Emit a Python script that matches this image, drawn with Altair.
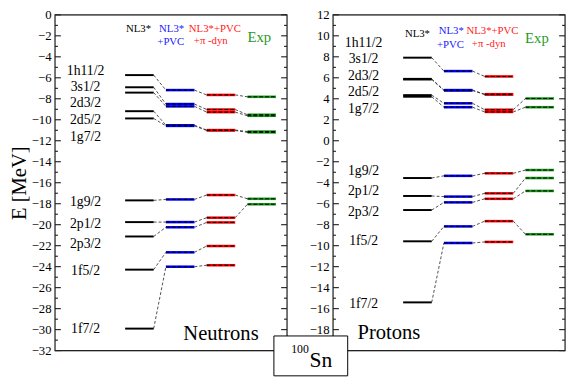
import altair as alt
import pandas as pd

# ---------------- data (energies in MeV) ----------------
METHODS = ["NL3*", "NL3*+PVC", "NL3*+PVC+pi-dyn", "Exp"]

N_STATES = ["1h11/2", "3s1/2", "2d3/2", "2d5/2", "1g7/2",
            "1g9/2", "2p1/2", "2p3/2", "1f5/2", "1f7/2"]
N_NL3 = [-5.74, -6.90, -7.41, -9.18, -9.87, -17.68, -19.75, -21.12, -24.28, -29.90]
N_PVC = [-7.17, -8.50, -8.72, -10.52, -10.58, -17.59, -19.75, -20.24, -22.63, -24.00]
N_PI = [-7.63, -9.02, -9.27, -10.98, -11.02, -17.17, -19.33, -19.78, -22.03, -23.86]
N_EXP = [-7.81, -9.52, -9.62, -11.12, -11.20, -17.53, -18.05, None, None, None]
N_LABEL_E = [-5.38, -6.84, -8.45, -10.03, -11.67, -17.85, -19.90, -21.85, -24.40, -29.90]

P_STATES = N_STATES
P_NL3 = [7.92, 5.90, 5.84, 4.35, 4.20, -3.55, -5.26, -6.60, -9.58, -15.40]
P_PVC = [6.64, 4.83, 4.79, 3.57, 3.20, -3.34, -5.32, -5.87, -8.16, -9.74]
P_PI = [6.13, 4.44, 4.40, 2.96, 2.75, -3.10, -5.01, -5.53, -7.66, -9.64]
P_EXP = [None, None, None, 4.03, 3.20, -2.79, -3.55, -4.78, -8.91, None]
P_LABEL_E = [9.29, 7.77, 6.18, 4.67, 3.05, -2.89, -4.78, -6.84, -9.58, -15.60]

HEAD_TEXT = ["NL3*", "NL3*", "+PVC", "NL3*+PVC", "+\u03c0 -dyn", "Exp"]
HEAD_COLOR = ["black", "#2020ff", "#2020ff", "#ff2020", "#ff2020", "#1f9a1f"]
HEAD_SIZE = [11, 11, 11, 11, 11, 15]
N_HEAD_X = [-0.02, 0.79, 0.77, 1.85, 1.75, 2.94]
N_HEAD_E = [-1.37, -1.37, -2.58, -1.34, -2.50, -2.10]
P_HEAD_X = [0.00, 0.83, 0.81, 1.84, 1.75, 2.93]
P_HEAD_E = [10.20, 10.45, 9.08, 10.45, 9.20, 9.75]

N_YTICKS = list(range(-32, 1, 2))
P_YTICKS = list(range(-18, 13, 2))

# ---------------- layout / style ----------------
COLORS = ["black", "#0000ff", "#ff0000", "#1a9a1a"]
HALF = 0.35
XDOM = [-2.07, 3.62]
W, H = 237, 343
LABEL_X = -1.32
SERIF = "Liberation Serif"


def build_panel(series, label_e, head_x, head_e, ydom, yticks, ytitle,
                name, name_x, name_e, box=False):
    lev = []
    for i, st in enumerate(N_STATES):
        for m, arr in enumerate(series):
            if arr[i] is None:
                continue
            lev.append(dict(state=st, m=m, x0=m - HALF, x1=m + HALF,
                            e=arr[i], color=COLORS[m]))
    lev = pd.DataFrame(lev)
    con = []
    for i in range(len(N_STATES)):
        for m in range(3):
            a, b = series[m][i], series[m + 1][i]
            if a is None or b is None:
                continue
            con.append(dict(x0=m + HALF, x1=m + 1 - HALF, e0=a, e1=b))
    con = pd.DataFrame(con)

    xs = alt.Scale(domain=XDOM, nice=False, zero=False)
    ys = alt.Scale(domain=ydom, nice=False, zero=False)

    lo, hi = ydom
    ticks = pd.DataFrame({"t": list(range(lo, hi + 1))})
    ticks["major"] = ticks["t"] % 2 == 0

    ax = alt.Axis(values=yticks, ticks=False, domain=False, grid=False,
                  labelFont=SERIF, labelFontSize=13, labelColor="black",
                  labelPadding=4, title=ytitle if ytitle else "",
                  titleFont=SERIF,
                  titleFontSize=21, titleFontWeight="normal",
                  titleColor="black", titlePadding=2)

    def Y(f):
        return alt.Y(f, scale=ys, axis=ax)

    def X(f):
        return alt.X(f, scale=xs, axis=None)

    tick_base = alt.Chart(ticks)
    t_left_major = tick_base.transform_filter("datum.major").mark_rule(
        color="black", strokeWidth=1).encode(
        y=Y("t:Q"), x=alt.value(0), x2=alt.value(6))
    t_left_minor = tick_base.transform_filter("!datum.major").mark_rule(
        color="black", strokeWidth=1).encode(
        y=Y("t:Q"), x=alt.value(0), x2=alt.value(3))
    t_right_major = tick_base.transform_filter("datum.major").mark_rule(
        color="black", strokeWidth=1).encode(
        y=Y("t:Q"), x=alt.value(W - 6), x2=alt.value(W))
    t_right_minor = tick_base.transform_filter("!datum.major").mark_rule(
        color="black", strokeWidth=1).encode(
        y=Y("t:Q"), x=alt.value(W - 3), x2=alt.value(W))

    frame = alt.Chart(pd.DataFrame({"k": [0]})).mark_rect(
        fillOpacity=0, stroke="#222", strokeWidth=1.2).encode(
        x=alt.value(0), x2=alt.value(W), y=alt.value(0), y2=alt.value(H))

    conn = alt.Chart(con).mark_rule(color="#222", strokeWidth=0.8,
                                    strokeDash=[3, 2]).encode(
        x=X("x0:Q"), x2="x1:Q", y=Y("e0:Q"), y2="e1:Q")

    black_bars = alt.Chart(lev).transform_filter("datum.m == 0").mark_rule(
        strokeWidth=2, color="black").encode(
        x=X("x0:Q"), x2="x1:Q", y=Y("e:Q"))
    col_bars = alt.Chart(lev).transform_filter("datum.m > 0").mark_rule(
        strokeWidth=2.6).encode(
        x=X("x0:Q"), x2="x1:Q", y=Y("e:Q"),
        color=alt.Color("color:N", scale=None))
    dash_bars = alt.Chart(lev).transform_filter("datum.m > 0").mark_rule(
        strokeWidth=1, color="black", strokeDash=[4, 2]).encode(
        x=X("x0:Q"), x2="x1:Q", y=Y("e:Q"))

    lab_df = pd.DataFrame({"label": N_STATES, "e": label_e, "x": LABEL_X})
    labels = alt.Chart(lab_df).mark_text(font=SERIF, fontSize=14,
                                         color="black", align="center",
                                         baseline="middle").encode(
        x=X("x:Q"), y=Y("e:Q"), text="label:N")

    head_df = pd.DataFrame({"t": HEAD_TEXT, "x": head_x, "e": head_e,
                            "c": HEAD_COLOR, "s": HEAD_SIZE})
    heads = alt.Chart(head_df).mark_text(font=SERIF, align="center",
                                         baseline="middle").encode(
        x=X("x:Q"), y=Y("e:Q"), text="t:N",
        color=alt.Color("c:N", scale=None),
        size=alt.Size("s:Q", scale=None))

    name_df = pd.DataFrame({"t": [name], "x": [name_x], "e": [name_e]})
    name_txt = alt.Chart(name_df).mark_text(font=SERIF, fontSize=21,
                                            color="black", align="center",
                                            baseline="alphabetic").encode(
        x=X("x:Q"), y=Y("e:Q"), text="t:N")

    layers = [t_left_major, t_left_minor, t_right_major, t_right_minor,
              frame, conn, black_bars, col_bars, dash_bars, labels, heads,
              name_txt]

    if box:
        box_df = pd.DataFrame({"x0": [-3.52], "x1": [-1.71],
                               "e0": [-18.6], "e1": [-22.4]})
        rect = alt.Chart(box_df).mark_rect(fill="white", stroke="black",
                                           strokeWidth=1).encode(
            x=X("x0:Q"), x2="x1:Q", y=Y("e0:Q"), y2="e1:Q")
        iso_df = pd.DataFrame({"t": ["100", "Sn"], "x": [-2.88, -2.37],
                               "e": [-20.24, -21.52], "s": [12, 22]})
        iso = alt.Chart(iso_df).mark_text(font=SERIF, color="black",
                                          align="center",
                                          baseline="alphabetic").encode(
            x=X("x:Q"), y=Y("e:Q"), text="t:N",
            size=alt.Size("s:Q", scale=None))
        layers += [rect, iso]

    return alt.layer(*layers).properties(width=W, height=H)


left = build_panel([N_NL3, N_PVC, N_PI, N_EXP], N_LABEL_E, N_HEAD_X, N_HEAD_E,
                   [-32, 0], N_YTICKS, "E [MeV]", "Neutrons", 2.0, -31.0)
right = build_panel([P_NL3, P_PVC, P_PI, P_EXP], P_LABEL_E, P_HEAD_X, P_HEAD_E,
                    [-20, 12], P_YTICKS, None, "Protons", -0.70, -18.87,
                    box=True)

chart = alt.hconcat(left, right, spacing=47, bounds="flush").properties(
    padding={"left": 0, "top": -4, "right": 0, "bottom": 0}
).configure_view(stroke="black", strokeWidth=1).configure(background="white")

chart.save("out.html", embed_options={"renderer": "svg", "actions": False})
